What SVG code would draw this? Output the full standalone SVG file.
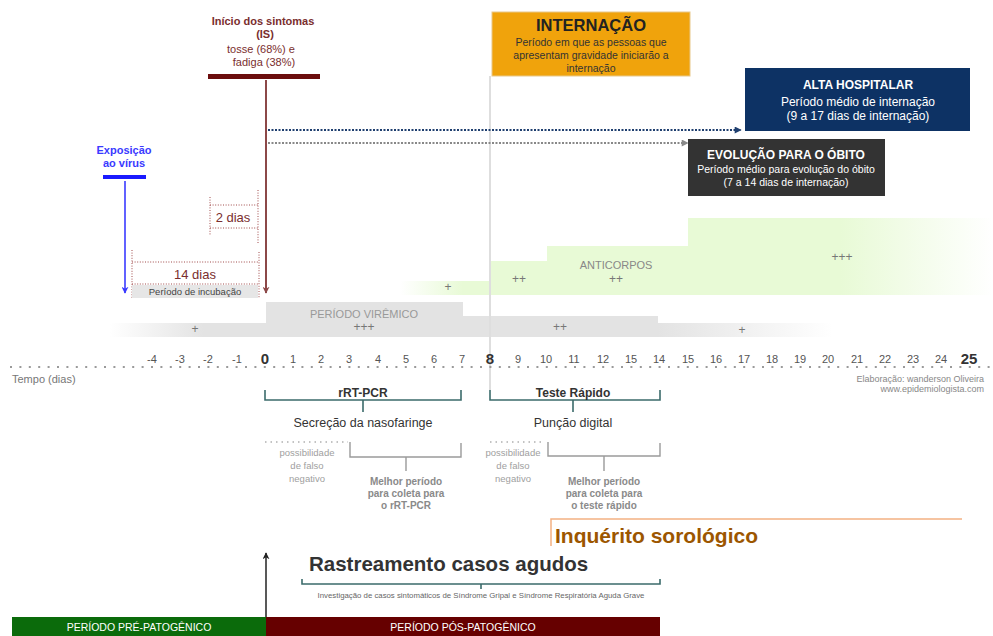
<svg xmlns="http://www.w3.org/2000/svg" width="993" height="636" viewBox="0 0 993 636">
<style>
text{font-family:"Liberation Sans",Arial,sans-serif}
.c{text-anchor:middle}
.tick{font-size:11px;fill:#555}
.big{font-size:15px;font-weight:bold;fill:#333}
.plus{font-size:12px;fill:#777;text-anchor:middle}
.mar{fill:#7a2e2e}
.dotm{stroke:#a04a4a;stroke-width:1;stroke-dasharray:1 1.6;fill:none}
.teal{stroke:#3b6b6b;stroke-width:1.6;fill:none}
.gbr{stroke:#9a9a9a;stroke-width:1.4;fill:none}
.fn{font-size:9.5px;fill:#a0a0a0;text-anchor:middle}
.best{font-size:10px;font-weight:bold;fill:#8a8a8a;text-anchor:middle}
.wt{fill:#fff;text-anchor:middle}
</style>
<defs>
<linearGradient id="gL" x1="0" x2="1"><stop offset="0" stop-color="#e3e3e3" stop-opacity="0"/><stop offset="0.6" stop-color="#e3e3e3"/></linearGradient>
<linearGradient id="gR" x1="0" x2="1"><stop offset="0" stop-color="#e3e3e3"/><stop offset="1" stop-color="#e3e3e3" stop-opacity="0"/></linearGradient>
<linearGradient id="gG1" x1="0" x2="1"><stop offset="0" stop-color="#e8fad6" stop-opacity="0"/><stop offset="0.7" stop-color="#e8fad6"/></linearGradient>
<linearGradient id="gG2" x1="0" x2="1"><stop offset="0" stop-color="#e8fad6"/><stop offset="0.5" stop-color="#e8fad6"/><stop offset="1" stop-color="#e8fad6" stop-opacity="0"/></linearGradient>
<marker id="aM" viewBox="0 0 10 10" refX="9" refY="5" markerWidth="7" markerHeight="7" orient="auto" markerUnits="userSpaceOnUse"><path d="M0,0 L10,5 L0,10 L3,5 z" fill="#8c4848"/></marker>
<marker id="aB" viewBox="0 0 10 10" refX="9" refY="5" markerWidth="7" markerHeight="7" orient="auto" markerUnits="userSpaceOnUse"><path d="M0,0 L10,5 L0,10 L3,5 z" fill="#3a3aff"/></marker>
<marker id="aK" viewBox="0 0 10 10" refX="9" refY="5" markerWidth="7" markerHeight="7" orient="auto" markerUnits="userSpaceOnUse"><path d="M0,0 L10,5 L0,10 L3,5 z" fill="#222"/></marker>
<marker id="aN" viewBox="0 0 10 10" refX="9" refY="5" markerWidth="9" markerHeight="7" orient="auto" markerUnits="userSpaceOnUse"><path d="M0,0 L10,5 L0,10 z" fill="#1f3f6f"/></marker>
<marker id="aG" viewBox="0 0 10 10" refX="9" refY="5" markerWidth="9" markerHeight="7" orient="auto" markerUnits="userSpaceOnUse"><path d="M0,0 L10,5 L0,10 z" fill="#888"/></marker>
</defs>
<rect width="993" height="636" fill="#fff"/>

<!-- bands -->
<g id="bands">
<rect x="110" y="323" width="156" height="14" fill="url(#gL)"/>
<rect x="463" y="316" width="195" height="21" fill="#e3e3e3"/>
<rect x="658" y="323" width="175" height="14" fill="url(#gR)"/>
<rect x="400" y="281" width="90" height="14" fill="url(#gG1)"/>
<rect x="490" y="261" width="57" height="34" fill="#e8fad6"/>
<rect x="547" y="246" width="141" height="49" fill="#e8fad6"/>
<rect x="688" y="218" width="305" height="77" fill="url(#gG2)"/>
<text class="plus" x="195" y="333">+</text>
<text class="plus" x="560" y="331">++</text>
<text class="plus" x="742" y="334">+</text>
<text class="plus" x="448" y="291">+</text>
<text class="plus" x="519" y="283">++</text>
<text x="616" y="269" class="c" style="font-size:11px;fill:#888">ANTICORPOS</text>
<text class="plus" x="616" y="283">++</text>
<text class="plus" x="842" y="261">+++</text>
</g>

<g id="viremico">
<rect x="266" y="302" width="197" height="35" fill="#e3e3e3"/>
<text x="364" y="318" class="c" style="font-size:11px;fill:#999">PERÍODO VIRÊMICO</text>
<text class="plus" x="364" y="331">+++</text>
</g>

<line x1="490" y1="76" x2="490" y2="390" stroke="#dedede" stroke-width="2"/>

<!-- connectors -->
<g id="connectors">
<line x1="266" y1="80" x2="266" y2="293" stroke="#8c4848" stroke-width="2" marker-end="url(#aM)"/>
<line x1="125" y1="181" x2="125" y2="293" stroke="#3a3aff" stroke-width="1.6" marker-end="url(#aB)"/>
<line x1="268" y1="130" x2="741" y2="130" stroke="#1f3f6f" stroke-width="2" stroke-dasharray="2 1.5" marker-end="url(#aN)"/>
<line x1="268" y1="143" x2="688" y2="143" stroke="#888" stroke-width="2" stroke-dasharray="2 1.5" marker-end="url(#aG)"/>
<line x1="266" y1="617" x2="266" y2="553" stroke="#222" stroke-width="1.5" marker-end="url(#aK)"/>
</g>

<g id="inicio">
<text x="263" y="25" class="c mar" style="font-size:11px;font-weight:bold">Início dos sintomas</text>
<text x="265" y="38" class="c mar" style="font-size:11px;font-weight:bold">(IS)</text>
<text x="261" y="53" class="c mar" style="font-size:11px">tosse (68%) e</text>
<text x="264" y="66" class="c mar" style="font-size:11px">fadiga (38%)</text>
<rect x="208" y="74" width="112" height="5" fill="#6b0d0d"/>
</g>

<g id="exposicao">
<text x="124" y="154" class="c" style="font-size:11px;font-weight:bold;fill:#3a3aff">Exposição</text>
<text x="124" y="167" class="c" style="font-size:11px;font-weight:bold;fill:#3a3aff">ao vírus</text>
<rect x="103" y="175" width="43" height="4" fill="#1a1aff"/>
</g>

<g id="dias2">
<path class="dotm" d="M210,197 V235 M210,205 H258 M210,228 H258 M258,190 V243"/>
<text x="233" y="222" class="c mar" style="font-size:13px">2 dias</text>
</g>

<g id="dias14">
<path class="dotm" d="M132,250 V298 M259,252 V298 M132,262 H259 M132,284 H259"/>
<text x="195" y="279" class="c mar" style="font-size:13px">14 dias</text>
<rect x="132" y="285" width="126" height="13" fill="#e6e6e6"/>
<text x="195" y="295" class="c" style="font-size:9.5px;fill:#444">Período de incubação</text>
</g>

<g id="internacao">
<rect x="492" y="12" width="198" height="64" fill="#f0a30c" stroke="#e8c88a" stroke-width="1"/>
<text x="591" y="31" class="c" style="font-size:16.5px;font-weight:bold;fill:#222">INTERNAÇÃO</text>
<text x="591" y="46" class="c" style="font-size:10.5px;fill:#333">Período em que as pessoas que</text>
<text x="591" y="59" class="c" style="font-size:10.5px;fill:#333">apresentam gravidade iniciarão a</text>
<text x="591" y="72" class="c" style="font-size:10.5px;fill:#333">internação</text>
</g>

<g id="alta">
<rect x="745" y="68" width="225" height="63" fill="#0d3264"/>
<text x="858" y="89" class="wt" style="font-size:12px;font-weight:bold">ALTA HOSPITALAR</text>
<text x="858" y="106" class="wt" style="font-size:12px">Período médio de internação</text>
<text x="858" y="120" class="wt" style="font-size:12px">(9 a 17 dias de internação)</text>
</g>

<g id="obito">
<rect x="688" y="139" width="197" height="57" fill="#333"/>
<text x="786" y="159" class="wt" style="font-size:12px;font-weight:bold">EVOLUÇÃO PARA O ÓBITO</text>
<text x="786" y="173" class="wt" style="font-size:10.5px">Período médio para evolução do óbito</text>
<text x="786" y="186" class="wt" style="font-size:10.5px">(7 a 14 dias de internação)</text>
</g>

<g id="axis">
<line x1="10" y1="367" x2="993" y2="367" stroke="#9a9a9a" stroke-width="2" stroke-dasharray="2 7.4"/>
<g class="c">
<text class="tick" x="152" y="363">-4</text>
<text class="tick" x="180" y="363">-3</text>
<text class="tick" x="208" y="363">-2</text>
<text class="tick" x="237" y="363">-1</text>
<text class="big" x="265" y="364">0</text>
<text class="tick" x="293" y="363">1</text>
<text class="tick" x="321" y="363">2</text>
<text class="tick" x="349" y="363">3</text>
<text class="tick" x="378" y="363">4</text>
<text class="tick" x="406" y="363">5</text>
<text class="tick" x="434" y="363">6</text>
<text class="tick" x="462" y="363">7</text>
<text class="big" x="490" y="364">8</text>
<text class="tick" x="518" y="363">9</text>
<text class="tick" x="546" y="363">10</text>
<text class="tick" x="574" y="363">11</text>
<text class="tick" x="603" y="363">12</text>
<text class="tick" x="631" y="363">15</text>
<text class="tick" x="659" y="363">14</text>
<text class="tick" x="688" y="363">15</text>
<text class="tick" x="716" y="363">16</text>
<text class="tick" x="744" y="363">17</text>
<text class="tick" x="772" y="363">18</text>
<text class="tick" x="800" y="363">19</text>
<text class="tick" x="828" y="363">20</text>
<text class="tick" x="857" y="363">21</text>
<text class="tick" x="885" y="363">22</text>
<text class="tick" x="913" y="363">23</text>
<text class="tick" x="941" y="363">24</text>
<text class="big" x="969" y="364">25</text>
</g>
<text x="12" y="383" style="font-size:11px;fill:#777">Tempo (dias)</text>
<text x="984" y="382" style="font-size:9px;fill:#888;text-anchor:end">Elaboração: wanderson Oliveira</text>
<text x="984" y="392" style="font-size:9px;fill:#888;text-anchor:end">www.epidemiologista.com</text>
</g>

<g id="rtpcr">
<path class="teal" d="M265,390 V400 H461 V390 M363,400 V412"/>
<text x="363" y="397" class="c" style="font-size:12px;font-weight:bold;fill:#333">rRT-PCR</text>
<text x="363" y="427" class="c" style="font-size:12.5px;fill:#333">Secreção da nasofaringe</text>
<line x1="265" y1="442" x2="348" y2="442" stroke="#b0b0b0" stroke-width="1.5" stroke-dasharray="1.5 4"/>
<path class="gbr" d="M350,442 V457 H461 V443 M406,457 V471"/>
<text class="fn" x="307" y="456">possibilidade</text>
<text class="fn" x="307" y="469">de falso</text>
<text class="fn" x="307" y="482">negativo</text>
<text class="best" x="406" y="485">Melhor período</text>
<text class="best" x="406" y="497">para coleta para</text>
<text class="best" x="406" y="509">o rRT-PCR</text>
</g>

<g id="teste">
<path class="teal" d="M490,390 V400 H660 V390 M573,400 V412"/>
<text x="573" y="397" class="c" style="font-size:12px;font-weight:bold;fill:#333">Teste Rápido</text>
<text x="573" y="427" class="c" style="font-size:12.5px;fill:#333">Punção digital</text>
<line x1="490" y1="442" x2="545" y2="442" stroke="#b0b0b0" stroke-width="1.5" stroke-dasharray="1.5 4"/>
<path class="gbr" d="M548,442 V456 H660 V443 M604,456 V471"/>
<text class="fn" x="513" y="456">possibilidade</text>
<text class="fn" x="513" y="469">de falso</text>
<text class="fn" x="513" y="482">negativo</text>
<text class="best" x="604" y="485">Melhor período</text>
<text class="best" x="604" y="497">para coleta para</text>
<text class="best" x="604" y="509">o teste rápido</text>
</g>

<g id="inquerito">
<path d="M551,546 V519 H962" stroke="#f4b183" stroke-width="1.5" fill="none"/>
<text x="555" y="543" style="font-size:21px;font-weight:bold;fill:#9c5600">Inquérito sorológico</text>
</g>

<g id="rastreamento">
<text x="309" y="571" style="font-size:20.5px;font-weight:bold;fill:#333">Rastreamento casos agudos</text>
<path class="teal" d="M302,579 V584 H660 V579 M481,584 V589"/>
<text x="481" y="598" class="c" style="font-size:7.8px;fill:#666">Investigação de casos sintomáticos de Síndrome Gripal e Síndrome Respiratória Aguda Grave</text>
</g>

<g id="pre">
<rect x="12" y="617" width="254" height="19" fill="#0b6b0b"/>
<text x="139" y="631" class="wt" style="font-size:10.5px">PERÍODO PRÉ-PATOGÊNICO</text>
</g>
<g id="pos">
<rect x="266" y="617" width="394" height="19" fill="#660000"/>
<text x="463" y="631" class="wt" style="font-size:10.5px">PERÍODO PÓS-PATOGÊNICO</text>
</g>
</svg>
